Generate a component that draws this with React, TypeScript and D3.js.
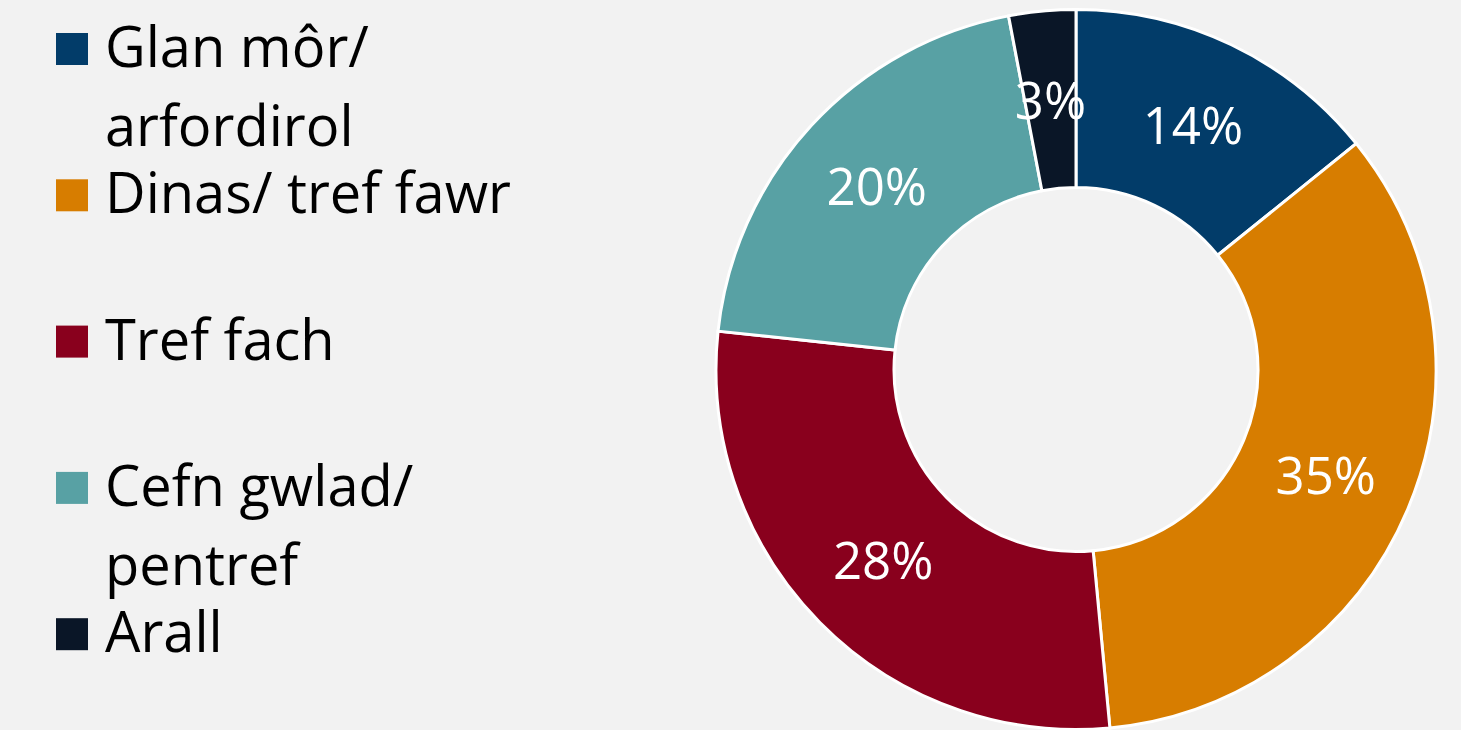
import React from "react";
import * as d3 from "d3";

const categories = ["Glan môr/ arfordirol", "Dinas/ tref fawr", "Tref fach", "Cefn gwlad/ pentref", "Arall"];
const legendLines = [["Glan môr/", "arfordirol"], ["Dinas/ tref fawr"], ["Tref fach"], ["Cefn gwlad/", "pentref"], ["Arall"]];
const values = [14.2, 34.3, 28.2, 20.3, 3.0];
const valueLabels = ["14%", "35%", "28%", "20%", "3%"];
const colors = ["#023C69", "#D77D00", "#89001D", "#58A1A4", "#0A1627"];

const W = 1461;
const H = 730;
const FONT = "'Open Sans', Lato, sans-serif";

export default function App() {
  const cx = 1076;
  const cy = 369.5;
  const outerR = 360;
  const innerR = 182;

  const pie = d3.pie<number>().sort(null).value((d) => d).startAngle(0).endAngle(2 * Math.PI);
  const arcs = pie(values);
  const arcGen = d3.arc<d3.PieArcDatum<number>>().innerRadius(innerR).outerRadius(outerR);

  const legendX = 56;
  const textX = 105;
  const firstBaseline = 67;
  const slot = 146.3;
  const lineGap = 79;
  const sq = 32;
  const fontSize = 56;
  const labelSize = 51;

  return (
    <svg
      width={W}
      height={H}
      style={{ position: "absolute", left: 0, top: 0, display: "block" }}
      xmlns="http://www.w3.org/2000/svg"
    >
      <rect x={0} y={0} width={W} height={H} fill="#F2F2F2" />
      <g transform={`translate(${cx},${cy})`}>
        {arcs.map((a, i) => (
          <path key={categories[i]} d={arcGen(a) || ""} fill={colors[i]} stroke="#FFFFFF" strokeWidth={3} strokeLinejoin="miter" />
        ))}
        {arcs.map((a, i) => {
          const [x, y] = arcGen.centroid(a);
          return (
            <text
              key={"l" + i}
              x={x}
              y={y + 19}
              textAnchor="middle"
              fill="#FFFFFF"
              fontFamily={FONT}
              fontSize={labelSize}
            >
              {valueLabels[i]}
            </text>
          );
        })}
      </g>
      <g>
        {legendLines.map((lines, i) => {
          const base = firstBaseline + i * slot;
          return (
            <g key={"lg" + i}>
              <rect x={legendX} y={base - sq - 2} width={sq} height={sq} fill={colors[i]} />
              {lines.map((ln, j) => (
                <text
                  key={j}
                  x={textX}
                  y={base + j * lineGap}
                  fill="#000000"
                  fontFamily={FONT}
                  fontSize={fontSize}
                >
                  {ln}
                </text>
              ))}
            </g>
          );
        })}
      </g>
    </svg>
  );
}
